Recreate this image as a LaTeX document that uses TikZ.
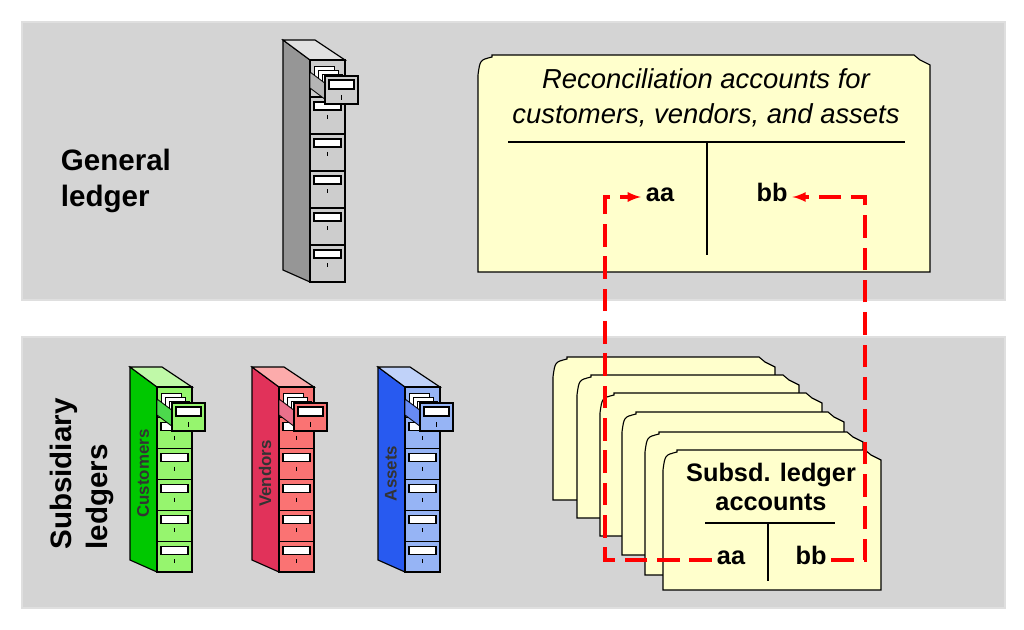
\documentclass[tikz,border=0pt]{standalone}
\usepackage{fontspec}
\setmainfont{Liberation Sans}
\usetikzlibrary{positioning, arrows}
\definecolor{panelgray}{RGB}{212,212,212}
\definecolor{cardyellow}{RGB}{255,255,204}
\definecolor{grnside}{RGB}{0,200,0}
\definecolor{grnfront}{RGB}{150,245,110}
\definecolor{redside}{RGB}{225,50,90}
\definecolor{redfront}{RGB}{250,115,115}
\definecolor{bluside}{RGB}{40,90,240}
\definecolor{blufront}{RGB}{150,180,245}
\definecolor{gryside}{RGB}{150,150,150}
\definecolor{gryfront}{RGB}{205,205,205}
\tikzset{
  panel/.style     = {fill=panelgray, draw=gray!25, line width=1.5pt},
  card/.style      = {fill=cardyellow, draw=black, line width=0.8pt},
  tline/.style     = {draw=black, line width=1.6pt},
  ttext/.style     = {font=\fontsize{18}{21}\selectfont\bfseries, text height=1.6ex, text depth=0.3ex},
  biglabel/.style  = {font=\fontsize{21}{26}\selectfont\bfseries, align=left},
  cablabel/.style  = {font=\fontsize{12}{13}\selectfont\bfseries, rotate=90, text=black!80},
  recon/.style     = {->, >=latex, draw=red, line width=2.2pt, dash pattern=on 16pt off 7pt},
}
% filing cabinet: x, y, height, side colour, front colour, label
\newcommand{\filecab}[6]{%
  \begin{scope}[shift={(#1,#2)}]
    \draw[fill=#4, line width=0.8pt] (0,0) -- (27,20) -- (27,#3) -- (0,#3-12) -- cycle;
    \draw[fill=#5!60!white, line width=0.8pt] (0,0) -- (32,0) -- (62,20) -- (27,20) -- cycle;
    \draw[fill=#5, line width=0.8pt] (27,20) rectangle (62,#3);
    \foreach \i in {1,...,5} {
      \pgfmathsetmacro{\dy}{20+(#3-20)*\i/6}
      \draw[line width=0.8pt] (27,\dy) -- (62,\dy);
      \draw[fill=white, line width=0.8pt] (31,\dy+5) rectangle (58,\dy+13);
      \draw[line width=1.4pt] (44.5,\dy+18) -- (44.5,\dy+22);
    }
    \draw[line width=1.4pt] (44.5,50) -- (44.5,54);
    % pulled-out top drawer
    \foreach \k in {0,4,8} {
      \draw[fill=white, line width=0.6pt] (31+\k,26+\k) -- (51+\k,26+\k) -- (51+\k,50) -- (31+\k,50) -- cycle;
    }
    \draw[fill=#4!70!white, line width=0.6pt] (27,32) -- (43,44) -- (43,60) -- (27,48) -- cycle;
    \draw[fill=#5, line width=0.8pt] (42,36) rectangle (75,64);
    \draw[fill=white, line width=0.8pt] (46,40) rectangle (71,49);
    \draw[line width=1.4pt] (58.5,55) -- (58.5,60);
    \node[cablabel] at (13,#3/2+4) {#6};
  \end{scope}}
% index card: x, y, width, height
\newcommand{\idxcard}[4]{%
  \draw[card] (#1,#2+#4) -- (#1,#2+20) .. controls (#1+2,#2+5) .. (#1+14,#2+2)
    -- (#1+14,#2) -- (#1+#3-16,#2) -- (#1+#3-10,#2+5) -- (#1+#3,#2+10) -- (#1+#3,#2+#4) -- cycle;}

\begin{document}
\begin{tikzpicture}[x=0.025cm, y=-0.025cm]
\useasboundingbox[fill=white] (0,0) rectangle (1024,630);

% panels
\draw[panel] (22,22) rectangle (1005,300);
\draw[panel] (22,337) rectangle (1005,608);

% general ledger
\node[biglabel, anchor=west] (gl) at (56,181) {General\\ledger};
\filecab{283}{40}{242}{gryside}{gryfront}{}
\idxcard{478}{55}{452}{217}
\node[font=\fontsize{19.5}{25}\selectfont\itshape, align=center] (rtitle) at (706,98)
  {Reconciliation accounts for\\customers, vendors, and assets};
\draw[tline] (508,142) -- (905,142);
\draw[tline] (707,142) -- (707,255);
\node[ttext] (gaa) at (660,197) {aa};
\node[ttext] (gbb) at (772,197) {bb};

% subsidiary ledgers
\node[biglabel, rotate=90, anchor=center] (sl) at (82,474) {Subsidiary\\ledgers};
\filecab{130}{367}{205}{grnside}{grnfront}{Customers}
\filecab{252}{367}{205}{redside}{redfront}{Vendors}
\filecab{378}{367}{205}{bluside}{blufront}{Assets}

\idxcard{553}{357}{222}{143}
\idxcard{577}{375}{222}{143}
\idxcard{600}{393}{222}{143}
\idxcard{622}{412}{222}{143}
\idxcard{645}{432}{218}{143}
\idxcard{663}{450}{218}{140}
\node[ttext, align=center, text height=, text depth=] (stitle) at (771,487) {Subsd. ledger\\accounts};
\draw[tline] (705,523) -- (835,523);
\draw[tline] (768,523) -- (768,581);
\node[ttext] (saa) at (731,560) {aa};
\node[ttext] (sbb) at (811,560) {bb};

% reconciliation links
\coordinate (lx) at (605,0);
\coordinate (rx) at (865,0);
\draw[recon] (saa.west) -- (saa.west -| lx) -- (gaa.west -| lx) -- (gaa.west);
\draw[recon] (sbb.east) -- (sbb.east -| rx) -- (gbb.east -| rx) -- (gbb.east);

\end{tikzpicture}
\end{document}
